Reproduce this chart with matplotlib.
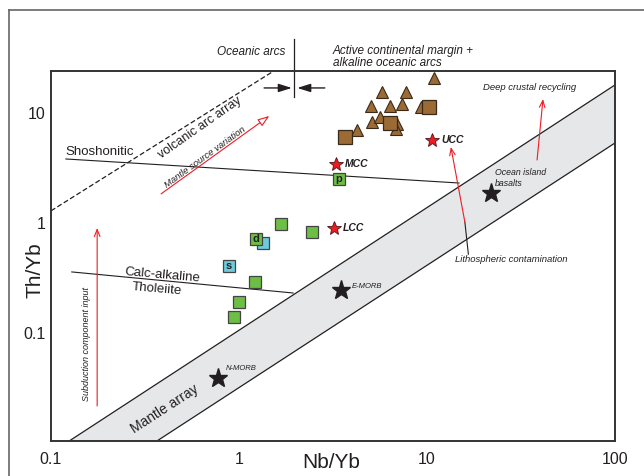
import matplotlib.pyplot as plt
from matplotlib.lines import Line2D

plt.rcParams["font.family"] = ["Liberation Sans", "DejaVu Sans"]
ink = "#231f20"

# Dane (Nb/Yb, Th/Yb)
green_x = [3.40, 1.67, 2.44, 1.23, 1.22, 1.00, 0.94]
green_y = [2.51, 0.98, 0.83, 0.716, 0.291, 0.191, 0.14]
cyan_x = [1.34, 0.885]
cyan_y = [0.658, 0.407]
brown_tri_x = [10.85, 5.74, 7.73, 5.02, 6.35, 7.36, 9.25, 5.12, 5.62, 6.90, 6.84, 4.23]
brown_tri_y = [20.7, 15.6, 15.6, 11.65, 11.65, 12.0, 11.4, 8.23, 9.14, 7.89, 7.11, 7.0]
brown_sq_x = [10.25, 6.38, 3.66]
brown_sq_y = [11.4, 8.16, 6.09]

ref_names = ["N-MORB", "E-MORB", "Ocean island basalts"]
ref_x = [0.773, 3.49, 21.9]
ref_y = [0.039, 0.246, 1.87]
crust_names = ["MCC", "UCC", "LCC"]
crust_x = [3.28, 10.6, 3.2]
crust_y = [3.44, 5.68, 0.90]

labelled = {"p": (3.40, 2.51), "d": (1.23, 0.716), "s": (0.885, 0.407)}

ymin, ymax = 0.01042, 24.1
mantle_upper_x = [0.125, 100]
mantle_upper_y = [ymin, 18.0]
mantle_lower_x = [0.366, 100]
mantle_lower_y = [ymin, 5.34]
arc_x = [0.1, 1.53]
arc_y = [1.29, ymax]
shosh_x = [0.12, 14.8]
shosh_y = [3.82, 2.31]
calc_x = [0.129, 1.94]
calc_y = [0.359, 0.231]

fig = plt.figure(figsize=(6.44, 4.76), dpi=100)
ax = fig.add_axes([51 / 644, 35 / 476, 564 / 644, 370 / 476])
ax.set_xscale("log")
ax.set_yscale("log")
ax.set_xlim(0.1, 100)
ax.set_ylim(ymin, ymax)

# Ramka zewnetrzna
fig.add_artist(Line2D([9 / 644, 1], [1 - 10 / 476, 1 - 10 / 476], color="#666666", lw=1.2))
fig.add_artist(Line2D([9 / 644, 9 / 644], [0, 1 - 10 / 476], color="#666666", lw=1.2))

# Pas "mantle array"
ax.fill(mantle_upper_x + mantle_lower_x[::-1], mantle_upper_y + mantle_lower_y[::-1],
        color="#e6e7e8", lw=0, zorder=1)
ax.plot(mantle_upper_x, mantle_upper_y, color=ink, lw=0.9, zorder=2)
ax.plot(mantle_lower_x, mantle_lower_y, color=ink, lw=0.9, zorder=2)
ax.plot(arc_x, arc_y, color=ink, lw=0.9, ls=(0, (4, 2)), zorder=2)
ax.plot(shosh_x, shosh_y, color=ink, lw=0.8, zorder=2)
ax.plot(calc_x, calc_y, color=ink, lw=0.8, zorder=2)

# Oceanic arcs / active margin
ax.plot([1.96, 1.96], [47, 14], color=ink, lw=0.9, clip_on=False)
head = dict(arrowstyle="-|>,head_length=0.8,head_width=0.25", color=ink, lw=1.0, shrinkA=0, shrinkB=0)
ax.annotate("", xy=(1.91, 16.9), xytext=(1.36, 16.9), arrowprops=head)
ax.annotate("", xy=(2.04, 16.9), xytext=(2.86, 16.9), arrowprops=head)
ax.text(1.76, 35.9, "Oceanic arcs", ha="right", va="center", style="italic", fontsize=8.5, color=ink)
ax.text(3.16, 32.3, "Active continental margin +\nalkaline oceanic arcs", ha="left", va="center",
        style="italic", fontsize=8.5, color=ink, linespacing=1.05)

# Czerwone strzalki
red = dict(arrowstyle="->,head_length=0.5,head_width=0.2", color="#ed1c24", lw=0.8, shrinkA=0, shrinkB=0)
ax.annotate("", xy=(41.4, 13.4), xytext=(38.5, 3.74), arrowprops=red)
ax.annotate("", xy=(13.4, 4.91), xytext=(15.9, 1.02), arrowprops=red)
ax.annotate("", xy=(0.176, 0.90), xytext=(0.176, 0.0217), arrowprops=red)
ax.annotate("", xy=(1.45, 9.4), xytext=(0.385, 1.84),
            arrowprops=dict(arrowstyle="-|>,head_length=0.7,head_width=0.25", edgecolor="#ed1c24",
                            facecolor="white", lw=0.8, shrinkA=0, shrinkB=0))
ax.plot([15.9, 16.6], [1.02, 0.52], color=ink, lw=0.8)

ax.text(19.9, 16.9, "Deep crustal recycling", style="italic", fontsize=6.8, color=ink, va="center")
ax.text(14.1, 0.461, "Lithospheric contamination", style="italic", fontsize=6.8, color=ink, va="center")
ax.text(23.0, 2.56, "Ocean island\nbasalts", style="italic", fontsize=6.3, color=ink, va="center")
ax.text(3.99, 0.267, "E-MORB", style="italic", fontsize=5.5, color=ink, va="center")
ax.text(0.853, 0.048, "N-MORB", style="italic", fontsize=5.5, color=ink, va="center")

def rtext(x, y, s, rot, size, st="normal"):
    ax.text(x, y, s, rotation=rot, rotation_mode="anchor", ha="center", va="center",
            fontsize=size, style=st, color=ink)

ax.text(0.12, 4.42, "Shoshonitic", fontsize=9.5, color=ink, va="center")
rtext(0.389, 0.337, "Calc-alkaline", -5, 9.5)
rtext(0.366, 0.251, "Tholeiite", -5, 9.5)
rtext(0.621, 7.3, "volcanic arc array", 35, 9)
rtext(0.659, 3.98, "Mantle source variation", 36, 6.8, "italic")
rtext(0.155, 0.0794, "Subduction component input", 90, 6.5, "italic")
rtext(0.404, 0.0204, "Mantle array", 33, 10)

# Punkty
ax.plot(cyan_x, cyan_y, "s", ms=8.5, mfc="#6dcbdc", mec="#444444", mew=0.9, zorder=4)
ax.plot(green_x, green_y, "s", ms=8.5, mfc="#6dbe45", mec="#444444", mew=0.9, zorder=4)
ax.plot(brown_tri_x, brown_tri_y, "^", ms=8, mfc="#9b6a35", mec="#3a2a1a", mew=0.8, zorder=4)
ax.plot(brown_sq_x, brown_sq_y, "s", ms=9.5, mfc="#9b6a35", mec="#3a2a1a", mew=0.9, zorder=5)
for k, (x, y) in labelled.items():
    ax.text(x, y, k, ha="center", va="center", fontsize=8, fontweight="bold", color=ink, zorder=6)

ax.plot(ref_x, ref_y, "*", ms=14, color="#231f20", zorder=4)
ax.plot(crust_x, crust_y, "*", ms=10.5, mfc="#ed1c24", mec="#5a1010", mew=0.6, zorder=4)
for name, x, y in zip(crust_names, crust_x, crust_y):
    ax.text(x * 1.12, y, name, fontsize=7.5, fontweight="bold", style="italic", color=ink, va="center")

# Osie
for sp in ax.spines.values():
    sp.set_linewidth(1.4)
    sp.set_color("#333333")
ax.set_xticks([0.1, 1, 10, 100])
ax.set_xticklabels(["0.1", "1", "10", "100"])
ax.set_yticks([0.1, 1, 10])
ax.set_yticklabels(["0.1", "1", "10"])
ax.minorticks_off()
ax.tick_params(length=0, labelsize=11.5, labelcolor=ink)
ax.tick_params(axis="x", pad=8)
ax.tick_params(axis="y", pad=4)
fig.text(331 / 644, 1 - 463 / 476, "Nb/Yb", ha="center", va="center", fontsize=15, color=ink)
fig.text(35 / 644, 1 - 270 / 476, "Th/Yb", ha="center", va="center", rotation=90, fontsize=15, color=ink)

fig.savefig("out.png", dpi=100)
